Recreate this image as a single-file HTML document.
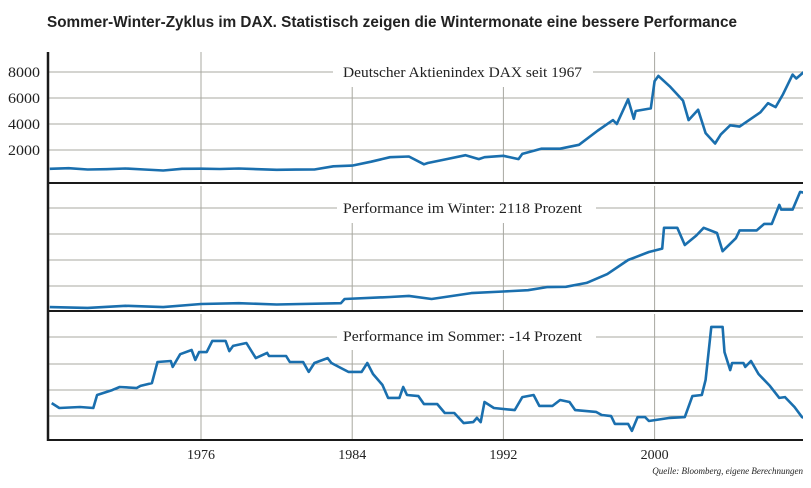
<!DOCTYPE html>
<html><head><meta charset="utf-8"><style>
html,body{margin:0;padding:0;background:#fff;}
svg{display:block;}
</style></head><body>
<svg id="chart" width="811" height="488" xmlns="http://www.w3.org/2000/svg">
<defs><clipPath id="clip"><rect x="48" y="40" width="755" height="410"/></clipPath></defs>
<text x="47" y="27" font-family="'Liberation Sans Narrow','Liberation Sans',sans-serif" font-weight="bold" font-size="16" fill="#222" textLength="690" lengthAdjust="spacingAndGlyphs">Sommer-Winter-Zyklus im DAX. Statistisch zeigen die Wintermonate eine bessere Performance</text>
<g id="grid"></g>
<g id="series" clip-path="url(#clip)"></g>
<g id="frame"></g>
<text x="803" y="474" text-anchor="end" font-family="'Liberation Serif',serif" font-style="italic" font-size="9" fill="#222">Quelle: Bloomberg, eigene Berechnungen</text>
</svg>
<script>
const yearTicks = [1976, 1984, 1992, 2000];
const daxTicks = [2000, 4000, 6000, 8000];
const daxYears = [1968,1969,1970,1971,1972,1973,1974,1975,1976,1977,1978,1979,1980,1981,1982,1983,1984,1985,1986,1987,1987.8,1988,1989,1990,1990.7,1991,1992,1992.8,1993,1994,1995,1996,1997,1997.8,1998,1998.6,1998.9,1999,1999.8,2000,2000.2,2000.8,2001.5,2001.8,2002.3,2002.7,2003.2,2003.5,2004,2004.5,2005,2005.6,2006,2006.4,2006.8,2007.3,2007.5,2007.9];
const daxValues = [550,600,500,520,580,500,420,550,560,540,580,520,480,490,500,750,800,1100,1450,1500,900,1000,1300,1600,1300,1450,1550,1300,1700,2100,2100,2400,3500,4300,4000,5900,4400,5000,5200,7300,7700,6900,5800,4300,5100,3300,2500,3200,3900,3800,4300,4900,5600,5300,6300,7800,7500,8000];
const winterYears = [1968,1970,1972,1974,1976,1978,1980,1983.4,1983.6,1986,1987,1988.2,1990.3,1992,1993.3,1994.3,1995.3,1996.4,1997.5,1998.6,1999.7,2000.4,2000.5,2001.2,2001.6,2002.2,2002.6,2003.3,2003.6,2004.3,2004.5,2005.4,2005.8,2006.2,2006.6,2006.7,2007.3,2007.7,2007.9];
const winterValues = [0.15,0.12,0.2,0.15,0.27,0.3,0.25,0.3,0.46,0.54,0.58,0.46,0.69,0.75,0.8,0.92,0.93,1.08,1.42,1.96,2.27,2.4,3.2,3.2,2.54,2.9,3.2,3.0,2.3,2.8,3.1,3.1,3.35,3.35,4.08,3.9,3.9,4.58,4.55];
const summerYears = [1968.1,1968.5,1969.6,1970.3,1970.5,1971.3,1971.7,1972.6,1972.8,1973.4,1973.7,1974.4,1974.5,1974.9,1975.5,1975.7,1975.9,1976.3,1976.6,1977.3,1977.5,1977.7,1978.4,1978.9,1979.5,1979.6,1980.5,1980.7,1981.4,1981.7,1982,1982.7,1982.9,1983.4,1983.8,1984.5,1984.8,1985.1,1985.6,1985.9,1986.5,1986.7,1986.9,1987.5,1987.8,1988.5,1988.9,1989.4,1989.9,1990.4,1990.6,1990.8,1991,1991.5,1992.6,1993,1993.6,1993.9,1994.6,1995,1995.5,1995.8,1996.9,1997.2,1997.7,1997.9,1998.6,1998.8,1999.1,1999.5,1999.7,2000.8,2001.6,2002,2002.5,2002.7,2003,2003.6,2003.7,2004,2004.1,2004.7,2004.8,2005.1,2005.5,2006.1,2006.6,2006.9,2007.4,2007.8,2007.9];
const summerValues = [1.42,1.23,1.27,1.23,1.73,1.92,2.04,2.0,2.08,2.19,3.0,3.04,2.81,3.3,3.46,3.08,3.38,3.38,3.81,3.81,3.42,3.62,3.73,3.15,3.35,3.23,3.23,3.0,3.0,2.62,2.96,3.15,2.96,2.77,2.62,2.62,2.96,2.54,2.12,1.62,1.62,2.04,1.73,1.69,1.38,1.38,1.04,1.04,0.65,0.69,0.85,0.69,1.46,1.23,1.15,1.65,1.73,1.31,1.31,1.54,1.46,1.15,1.08,0.96,0.92,0.62,0.62,0.35,0.88,0.88,0.73,0.85,0.88,1.69,1.73,2.31,4.35,4.35,3.38,2.69,2.96,2.96,2.81,3.04,2.54,2.08,1.62,1.65,1.27,0.88,0.85];

const NS = 'http://www.w3.org/2000/svg';
function xs(year){ return 201 + (year - 1976) * 18.9; }
function yDax(v){ return 176 - v / 2000 * 26; }
function yWinter(v){ return 311 - v * 26; }
function ySummer(v){ return 440 - v * 26; }
function mk(tag, attrs, parent){ const e = document.createElementNS(NS, tag); for (const k in attrs) e.setAttribute(k, attrs[k]); parent.appendChild(e); return e; }
const grid = document.getElementById('grid');
const frame = document.getElementById('frame');
const series = document.getElementById('series');
const GC = '#a8a8a0';

const panels = [
  {top:52, bottom:183, lines:[72,98,124,150], gapY:72, labelY:72, text:'Deutscher Aktienindex DAX seit 1967', name:'dax', mid:87, gap:[333,593]},
  {top:186, bottom:311, lines:[208,234,260,286], gapY:208, labelY:208, text:'Performance im Winter: 2118 Prozent', name:'winter', mid:223, gap:[337,596]},
  {top:314, bottom:440, lines:[337,364,390,416], gapY:337, labelY:336, text:'Performance im Sommer: -14 Prozent', name:'summer', mid:350, gap:[337,596]}
];
panels.forEach(p => {
  p.lines.forEach((ly) => {
    if (ly === p.gapY) {
      let l = mk('line', {x1:48, x2:p.gap[0], y1:ly, y2:ly, stroke:GC, 'stroke-width':1}, grid);
      
      
      l = mk('line', {x1:p.gap[1], x2:803, y1:ly, y2:ly, stroke:GC, 'stroke-width':1}, grid);
      
      
    } else {
      const l = mk('line', {x1:48, x2:803, y1:ly, y2:ly, stroke:GC, 'stroke-width':1}, grid);
      
      
    }
  });
  yearTicks.forEach((yr, i) => {
    const top = (i === 0 || i === 3) ? p.top : p.mid;
    const l = mk('line', {x1:xs(yr), x2:xs(yr), y1:top, y2:p.bottom, stroke:GC, 'stroke-width':1}, grid);
    
    
  });
  const t = mk('text', {x:343, y:p.labelY + 5, 'font-family':"'Liberation Serif',serif", 'font-size':14.5, fill:'#222', textLength:239, lengthAdjust:'spacingAndGlyphs'}, grid);
  t.textContent = p.text;
  
  
  const b = mk('line', {x1:47, x2:803, y1:p.bottom, y2:p.bottom, stroke:'#1a1a1a', 'stroke-width':2}, frame);
  
  
});
const ax = mk('line', {x1:48, x2:48, y1:52, y2:441, stroke:'#1a1a1a', 'stroke-width':2.5}, frame);



daxTicks.forEach(v => {
  const t = mk('text', {x:8, y:yDax(v) + 5, 'font-family':"'Liberation Serif',serif", 'font-size':15, fill:'#222', textLength:32, lengthAdjust:'spacingAndGlyphs'}, frame);
  t.textContent = v;
  
  
});
yearTicks.forEach(yr => {
  const t = mk('text', {x:xs(yr), y:459, 'text-anchor':'middle', 'font-family':"'Liberation Serif',serif", 'font-size':14, fill:'#222'}, frame);
  t.textContent = yr;
  
  
});

function line(years, vals, yf, name){
  const d = years.map((yr, i) => (i ? 'L' : 'M') + xs(yr).toFixed(1) + ',' + yf(vals[i]).toFixed(1)).join(' ');
  const p = mk('path', {d:d, fill:'none', stroke:'#1a6fae', 'stroke-width':2.6, 'stroke-linejoin':'round'}, series);
  
  
}
line(daxYears, daxValues, yDax, 'dax-line');
line(winterYears, winterValues, yWinter, 'winter-performance-line');
line(summerYears, summerValues, ySummer, 'summer-performance-line');
</script>
</body></html>
